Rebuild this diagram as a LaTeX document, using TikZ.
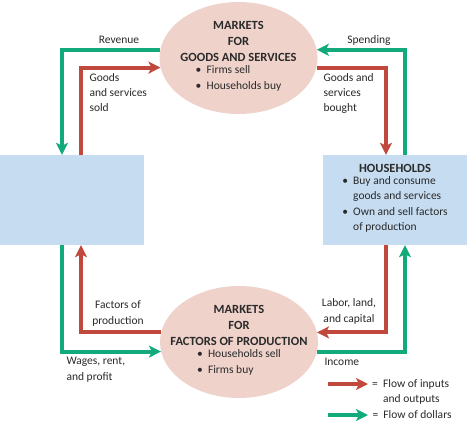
\documentclass[tikz,border=0pt]{standalone}
\usepackage{fontspec}
\setmainfont{Carlito}
\usetikzlibrary{arrows.meta,shapes.geometric}
\definecolor{flowgreen}{HTML}{12AA7A}
\definecolor{flowred}{HTML}{C0483C}
\definecolor{mktpink}{HTML}{EFD3CA}
\definecolor{boxblue}{HTML}{C6DCF1}
\definecolor{txtgray}{HTML}{2A2A2A}
\newcommand{\hdr}[1]{{\fontsize{12.5}{16}\selectfont\bfseries #1}}

\begin{document}
\begin{tikzpicture}[x=1pt,y=-1pt,
  font=\fontsize{11.5}{15.5}\selectfont, text=txtgray,
  market/.style={ellipse,fill=mktpink,minimum width=158pt,minimum height=112pt,inner sep=0pt},
  sector/.style={rectangle,fill=boxblue,minimum width=144pt,minimum height=90pt,inner sep=0pt},
  goodsflow/.style={draw=flowred,line width=4pt,-{Stealth[length=12pt,width=12pt,inset=3pt]}},
  dollarflow/.style={draw=flowgreen,line width=4pt,-{Stealth[length=12pt,width=12pt,inset=3pt]}}]
\useasboundingbox[fill=white] (0,0) rectangle (474,429);

\node[market] (goods) at (238.5,58) {};
\node[align=center,font=\fontsize{11.5}{16}\selectfont] (goodstxt) at (goods) {\hdr{MARKETS}\\\hdr{FOR}\\\hdr{GOODS AND SERVICES}\\
  \begin{tabular}{@{}l@{}}\textbullet\ \ Firms sell\\\textbullet\ \ Households buy\end{tabular}};
\node[market] (factors) at (239,342) {};
\node[align=center,font=\fontsize{11.5}{16}\selectfont] (factorstxt) at (factors) {\hdr{MARKETS}\\\hdr{FOR}\\\hdr{FACTORS OF PRODUCTION}\\
  \begin{tabular}{@{}l@{}}\textbullet\ \ Households sell\\\textbullet\ \ Firms buy\end{tabular}};
\node[sector] (firms) at (72,200) {};
\node[sector,align=center] (hh) at (395,200) {\hdr{HOUSEHOLDS}\\
  \begin{tabular}{@{}l@{\ \ }l@{}}\textbullet & Buy and consume\\ & goods and services\\
  \textbullet & Own and sell factors\\ & of production\end{tabular}};

% product market loop
\draw[dollarflow] (goods.174) -| ([xshift=-10pt]firms.north);
\draw[goodsflow] ([xshift=9pt]firms.north) |- (goods.187);
\draw[dollarflow] ([xshift=10pt]hh.north) |- (goods.6);
\draw[goodsflow] (goods.353) -| ([xshift=-9pt]hh.north);
% factor market loop
\draw[goodsflow] (factors.173) -| ([xshift=9pt]firms.south);
\draw[dollarflow] ([xshift=-10pt]firms.south) |- (factors.187);
\draw[goodsflow] ([xshift=-9pt]hh.south) |- (factors.7);
\draw[dollarflow] (factors.353) -| ([xshift=10pt]hh.south);

\node (revenue) at (119,40) {Revenue};
\node (spending) at (369,40) {Spending};
\node[anchor=west,align=left,font=\fontsize{11.5}{15}\selectfont] (sold) at (86,93) {Goods\\and services\\sold};
\node[anchor=west,align=left,font=\fontsize{11.5}{15}\selectfont] (bought) at (320,93) {Goods and\\services\\bought};
\node[align=center,font=\fontsize{11.5}{16}\selectfont] (fop) at (118,313) {Factors of\\production};
\node[align=center,font=\fontsize{11.5}{16}\selectfont] (labor) at (349,311) {Labor, land,\\and capital};
\node[anchor=west,align=left,font=\fontsize{11.5}{16}\selectfont] (wages) at (63,370) {Wages, rent,\\and profit};
\node[anchor=west] (income) at (321,362) {Income};

% legend
\coordinate (redA) at (328,384);
\coordinate (redB) at (368,384);
\coordinate (greenA) at (328,415);
\coordinate (greenB) at (368,415);
\draw[goodsflow] (redA) -- (redB);
\draw[dollarflow] (greenA) -- (greenB);
\node[anchor=north west,inner sep=0pt] (keyred) at (372,376) {\begin{tabular}{@{}l@{\ \ }l@{}}= & Flow of inputs\\ & and outputs\end{tabular}};
\node[anchor=west] (keygreen) at (369,415) {=\ \ Flow of dollars};
\end{tikzpicture}
\end{document}
